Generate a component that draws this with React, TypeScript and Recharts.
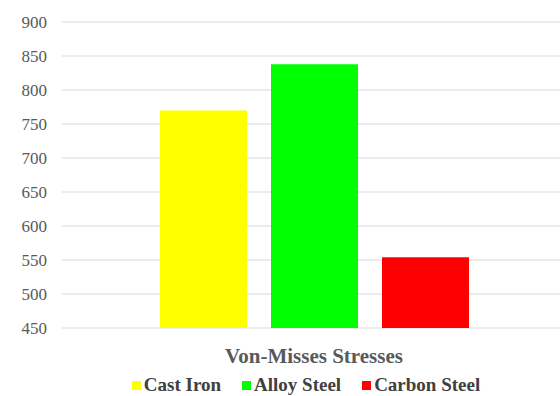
import { BarChart, Bar, XAxis, YAxis, CartesianGrid, Legend } from "recharts";

const CATEGORIES = ["Von-Misses Stresses"];
const SERIES = ["Cast Iron", "Alloy Steel", "Carbon Steel"];
const CAST_IRON = [770];
const ALLOY_STEEL = [838];
const CARBON_STEEL = [554];
const Y_TICKS = [450, 500, 550, 600, 650, 700, 750, 800, 850, 900];

const COLORS = ["#ffff00", "#00ff00", "#ff0000"];
const FONT = "'Liberation Serif', 'DejaVu Serif', serif";

const data = CATEGORIES.map((name, i) => ({
  name,
  [SERIES[0]]: CAST_IRON[i],
  [SERIES[1]]: ALLOY_STEEL[i],
  [SERIES[2]]: CARBON_STEEL[i],
}));

function LegendBox() {
  return (
    <div
      style={{
        display: "flex",
        justifyContent: "center",
        gap: 21,
        fontFamily: FONT,
        fontSize: 19,
        fontWeight: 700,
        color: "#404040",
        lineHeight: "20px",
        paddingLeft: 46,
      }}
    >
      {SERIES.map((s, i) => (
        <div key={s} style={{ display: "flex", alignItems: "center", gap: 3 }}>
          <span style={{ width: 9, height: 9, background: COLORS[i], display: "inline-block" }} />
          <span>{s}</span>
        </div>
      ))}
    </div>
  );
}

export default function App() {
  return (
    <div style={{ width: 560, height: 396, background: "#fff", fontFamily: FONT }}>
      <style>{"body{margin:0}"}</style>
      <BarChart
        width={560}
        height={396}
        data={data}
        margin={{ top: 22, right: -6, left: 0, bottom: 1 }}
        barSize={87}
        barGap={24}
        style={{ fontFamily: FONT }}
      >
        <CartesianGrid vertical={false} stroke="#d9d9d9" />
        <XAxis
          dataKey="name"
          axisLine={false}
          tickLine={false}
          height={47}
          tickMargin={14}
          tick={{ fontSize: 21, fontWeight: 700, fill: "#595959", style: { fontFamily: FONT } }}
        />
        <YAxis
          domain={[450, 900]}
          ticks={Y_TICKS}
          width={62}
          axisLine={false}
          tickLine={false}
          tickSize={0}
          tickMargin={15}
          tick={{ fontSize: 17, fill: "#595959", style: { fontFamily: FONT } }}
        />
        <Legend verticalAlign="bottom" content={() => <LegendBox />} />
        {SERIES.map((s, i) => (
          <Bar key={s} dataKey={s} fill={COLORS[i]} isAnimationActive={false} />
        ))}
      </BarChart>
    </div>
  );
}
